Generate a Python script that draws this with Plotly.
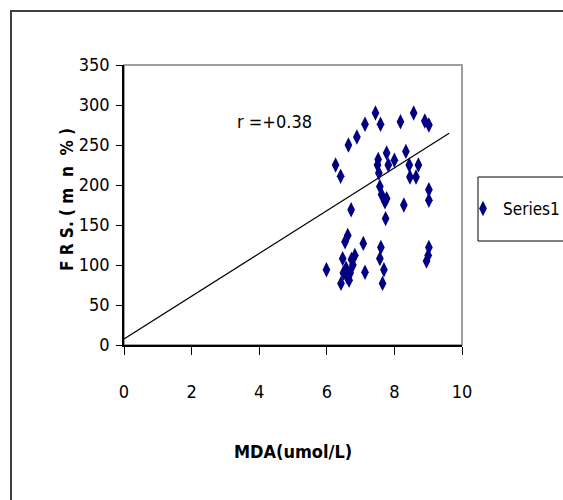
import plotly.graph_objects as go

# Data
mda = [7.44, 7.59, 7.13, 6.89, 6.64, 8.18, 8.57, 8.90, 9.02, 6.26,
       6.41, 7.77, 8.00, 8.34, 7.50, 7.82, 8.44, 8.71, 7.54, 8.46,
       8.64, 7.57, 7.62, 9.02, 9.02, 7.72, 8.28, 6.72, 7.74, 6.62,
       6.54, 7.08, 7.60, 9.02, 8.95, 6.47, 6.83, 7.57, 6.77, 5.99,
       7.13, 7.69, 6.49, 6.69, 6.42, 6.66, 7.65, 6.57, 6.73, 7.77,
       7.52, 6.60, 9.00]
frs = [290, 276, 276, 260, 250, 279, 290, 280, 275, 225,
       211, 240, 231, 242, 225, 225, 225, 225, 215, 210,
       210, 198, 188, 194, 181, 179, 175, 169, 158, 137,
       129, 127, 122, 122, 105, 108, 112, 108, 100, 94,
       91, 94, 90, 90, 77, 81, 77, 96, 107, 183,
       232, 85, 112]

trend_x = [0, 9.62]
trend_y = [7.5, 264.6]

x_ticks = [0, 2, 4, 6, 8, 10]
y_ticks = [0, 50, 100, 150, 200, 250, 300, 350]

series_name = "Series1"
x_title = "MDA(umol/L)"
y_title = "F R S. ( m  n  % )"
r_label = "r =+0.38"

FONT = "DejaVu Sans Condensed, Liberation Sans Narrow, Arial Narrow, sans-serif"

fig = go.Figure()
fig.add_trace(go.Scatter(
    x=trend_x, y=trend_y, mode="lines",
    line=dict(color="black", width=1.2),
    showlegend=False, hoverinfo="skip"))
fig.add_trace(go.Scatter(
    x=mda, y=frs, mode="markers", name=series_name,
    marker=dict(symbol="diamond-tall", size=11, color="#000080",
                line=dict(width=0))))

# plot area: x 124..462, y 65..345
L, R, T, B = 124, 101, 65, 155
W, H = 563 - L - R, 500 - T - B

def px(xp):
    return (xp - L) / W

def py(yp):
    return (500 - B - yp) / H

shapes = [
    # outer chart border
    dict(type="rect", xref="paper", yref="paper",
         x0=px(11), x1=px(600), y0=py(11), y1=py(540),
         line=dict(color="#404040", width=2), fillcolor="rgba(0,0,0,0)",
         layer="below"),
    # plot area border (gray)
    dict(type="rect", xref="paper", yref="paper",
         x0=0, x1=1, y0=0, y1=1,
         line=dict(color="#808080", width=1.5), layer="below"),
    # legend box
    dict(type="rect", xref="paper", yref="paper",
         x0=px(478), x1=px(600), y0=py(177), y1=py(241),
         line=dict(color="black", width=1), layer="below"),
]

fig.update_layout(
    width=563, height=500,
    margin=dict(l=L, r=R, t=T, b=B, autoexpand=False),
    paper_bgcolor="white", plot_bgcolor="white",
    font=dict(family=FONT, size=18, color="black"),
    shapes=shapes,
    showlegend=True,
    legend=dict(x=px(463), y=py(209), xanchor="left", yanchor="middle",
                bgcolor="rgba(0,0,0,0)", borderwidth=0,
                font=dict(family=FONT, size=17)),
    annotations=[
        dict(x=4.45, y=280, xref="x", yref="y", text=r_label,
             showarrow=False, font=dict(family=FONT, size=18)),
        dict(x=px(67), y=py(200), xref="paper", yref="paper",
             text="<b>" + y_title + "</b>", textangle=-90,
             xanchor="center", yanchor="middle", showarrow=False,
             font=dict(family=FONT, size=17)),
    ],
    xaxis=dict(range=[0, 10], tickvals=x_ticks, ticks="outside", ticklen=8,
               tickcolor="black", showline=True, linecolor="black",
               linewidth=1.5, showgrid=False, zeroline=False,
               ticklabelstandoff=22,
               title=dict(text="<b>" + x_title + "</b>", standoff=44,
                          font=dict(family=FONT, size=18))),
    yaxis=dict(range=[0, 350], tickvals=y_ticks, ticks="outside", ticklen=6,
               tickcolor="black", showline=True, linecolor="black",
               linewidth=1.5, showgrid=False, zeroline=False,
               ticklabelstandoff=3),
)

fig.write_html("out.html", config={"displayModeBar": False},
               post_script="document.body.style.margin='0';")
